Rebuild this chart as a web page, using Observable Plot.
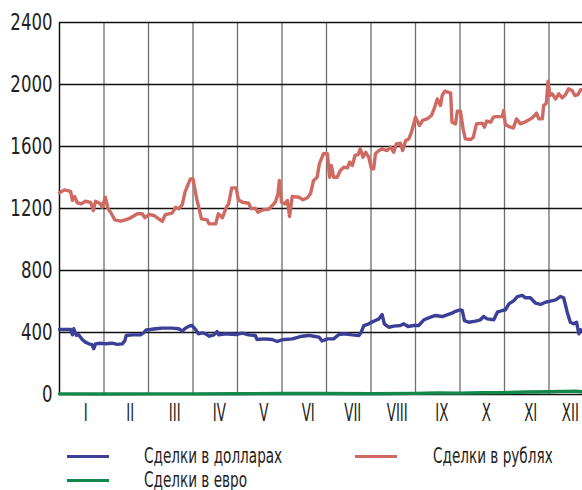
<!DOCTYPE html>
<html>
<head>
<meta charset="utf-8">
<script src="https://cdn.jsdelivr.net/npm/d3@7"></script>
<script src="https://cdn.jsdelivr.net/npm/@observablehq/plot@0.6"></script>
<style>
  html, body { margin: 0; padding: 0; background: #fff; }
  body { width: 582px; height: 490px; overflow: hidden; font-family: "Liberation Sans Narrow", "DejaVu Sans Condensed", sans-serif; }
  #legend { position: relative; width: 582px; height: 50px; color: #222; font-size: 21px; }
  .sw { position: absolute; height: 3px; width: 42px; }
  .lt { position: absolute; line-height: 21px; white-space: nowrap; transform: scaleX(0.72); transform-origin: 0 50%; }
</style>
</head>
<body>
<div id="chart"></div>
<div id="legend"></div>
<script>
// Month positions (fraction of the year in months, 0 = 1 January)
const rubT = [0,0.11,0.25,0.29,0.34,0.40,0.49,0.58,0.70,0.76,0.81,0.92,0.96,1.03,1.09,1.15,1.24,1.37,1.48,1.60,1.75,1.86,1.92,2.01,2.12,2.23,2.31,2.38,2.53,2.61,2.68,2.76,2.82,2.94,3.00,3.09,3.13,3.19,3.32,3.36,3.51,3.57,3.66,3.75,3.80,3.87,3.97,4.02,4.11,4.25,4.31,4.40,4.46,4.56,4.70,4.78,4.85,4.91,4.94,4.99,5.06,5.12,5.17,5.23,5.38,5.47,5.57,5.64,5.71,5.79,5.84,5.93,6.02,6.07,6.11,6.16,6.24,6.31,6.39,6.47,6.52,6.58,6.64,6.71,6.76,6.82,6.88,6.95,7.01,7.06,7.10,7.16,7.25,7.36,7.44,7.51,7.57,7.66,7.71,7.78,7.85,7.91,8.00,8.09,8.16,8.26,8.36,8.43,8.49,8.56,8.60,8.66,8.79,8.82,8.90,8.94,9.01,9.07,9.12,9.24,9.30,9.37,9.50,9.55,9.60,9.69,9.75,9.82,9.95,9.98,10.02,10.10,10.20,10.27,10.36,10.45,10.55,10.64,10.72,10.77,10.85,10.88,10.94,10.98,11.02,11.07,11.15,11.22,11.30,11.37,11.44,11.52,11.58,11.65,11.71,11.75];
const rubV = [1301,1320,1311,1252,1277,1237,1230,1247,1240,1187,1247,1230,1208,1273,1198,1176,1127,1118,1127,1140,1166,1166,1140,1161,1155,1133,1118,1161,1170,1208,1198,1226,1305,1391,1391,1252,1208,1133,1127,1101,1101,1166,1140,1208,1230,1333,1333,1256,1240,1234,1198,1202,1176,1191,1195,1219,1240,1295,1381,1240,1230,1252,1148,1277,1273,1256,1269,1295,1381,1402,1488,1553,1553,1402,1477,1402,1402,1445,1466,1462,1499,1477,1542,1548,1585,1531,1563,1531,1456,1456,1553,1570,1585,1574,1596,1563,1617,1621,1574,1639,1649,1692,1789,1735,1768,1778,1800,1853,1907,1864,1929,1957,1944,1757,1746,1828,1828,1714,1649,1645,1660,1746,1751,1725,1764,1757,1789,1793,1793,1832,1742,1729,1720,1778,1746,1757,1772,1789,1815,1778,1778,1864,1879,2021,1929,1940,1907,1940,1914,1935,1972,1961,1929,1935,1966,1966];

const usdT = [0,0.25,0.29,0.32,0.38,0.43,0.51,0.58,0.66,0.73,0.77,0.81,0.92,1.03,1.18,1.30,1.41,1.47,1.50,1.63,1.82,1.89,1.95,2.04,2.16,2.31,2.53,2.68,2.76,2.83,2.91,2.98,3.06,3.12,3.21,3.28,3.37,3.47,3.54,3.58,3.73,3.96,4.11,4.25,4.40,4.44,4.59,4.78,4.89,5.00,5.23,5.45,5.60,5.71,5.83,5.90,6.02,6.16,6.28,6.39,6.58,6.73,6.78,6.84,6.95,7.06,7.18,7.25,7.30,7.40,7.51,7.66,7.74,7.83,7.96,8.07,8.19,8.34,8.45,8.60,8.71,8.82,8.90,9.00,9.05,9.10,9.20,9.35,9.46,9.53,9.61,9.76,9.84,9.95,10.02,10.10,10.21,10.29,10.40,10.47,10.58,10.70,10.81,10.92,11.03,11.15,11.26,11.33,11.41,11.48,11.56,11.62,11.67,11.71,11.75];
const usdV = [419,419,385,424,381,385,355,338,327,321,295,327,331,327,331,323,327,348,381,385,385,398,417,419,424,428,428,424,409,428,441,445,419,392,398,392,376,385,406,385,392,387,396,385,381,355,359,355,342,353,359,376,381,376,370,345,359,359,387,392,385,381,402,445,456,473,488,516,456,434,441,445,456,439,445,445,482,499,510,503,514,525,537,546,542,477,466,473,482,503,488,482,531,542,546,585,606,632,639,624,624,589,581,595,602,611,632,624,531,466,456,466,392,417,413];

const eurT = [0,1,2,3,4,5,6,7,8,8.5,9,9.5,10,10.5,11,11.3,11.6,11.75];
const eurV = [4,3,4,4,5,6,6,5,7,10,9,11,12,16,18,20,22,18];

const yTicks = [0,400,800,1200,1600,2000,2400];
const monthLabels = ["I","II","III","IV","V","VI","VII","VIII","IX","X","XI","XII"];
const monthBounds = [1,2,3,4,5,6,7,8,9,10,11];

const seriesNames = ["Сделки в долларах", "Сделки в евро", "Сделки в рублях"];
const colors = {usd: "#3b3f98", eur: "#12884a", rub: "#cf6a62"};

const rub = rubT.map((t,i) => ({t, v: rubV[i]}));
const usd = usdT.map((t,i) => ({t, v: usdV[i]}));
const eur = eurT.map((t,i) => ({t, v: eurV[i]}));

const fontFam = '"Liberation Sans Narrow", "DejaVu Sans Condensed", sans-serif';

const chart = Plot.plot({
  width: 582,
  height: 440,
  marginLeft: 59,
  marginRight: 0,
  marginTop: 22,
  marginBottom: 46,
  x: {domain: [0, 11.753], axis: null},
  y: {domain: [0, 2400], axis: null},
  style: {fontFamily: fontFam, fontSize: "22px", color: "#222", background: "#fff"},
  marks: [
    Plot.ruleX(monthBounds, {stroke: "#6e6e6e", strokeWidth: 1.3}),
    Plot.ruleY(yTicks, {stroke: "#111", strokeWidth: 1.3}),
    Plot.ruleX([0], {stroke: "#111", strokeWidth: 1.5}),
    Plot.axisY(yTicks, {tickSize: 0, tickPadding: 7, tickFormat: d => String(d), fontSize: 23, label: null}),
    Plot.line(rub, {x: "t", y: "v", stroke: colors.rub, strokeWidth: 3.4, strokeLinejoin: "round"}),
    Plot.line(usd, {x: "t", y: "v", stroke: colors.usd, strokeWidth: 3.4, strokeLinejoin: "round"}),
    Plot.line(eur, {x: "t", y: "v", stroke: colors.eur, strokeWidth: 3.4, strokeLinejoin: "round"}),
    Plot.text(monthLabels, {x: (d, i) => Math.min(i + 0.59, 11.48), y: 0, text: d => d, dy: 19, fontSize: 24, fill: "#222"})
  ]
});
document.getElementById("chart").appendChild(chart);

// Narrow the glyphs horizontally (condensed face of the original) without moving anchors
function squeeze(el, k) {
  const w = el.getComputedTextLength();
  if (w > 0) {
    el.setAttribute("textLength", (w * k).toFixed(2));
    el.setAttribute("lengthAdjust", "spacingAndGlyphs");
  }
}
const svg = chart.tagName.toLowerCase() === "svg" ? chart : chart.querySelector("svg");
svg.querySelectorAll("text").forEach(el => {
  const s = el.textContent;
  if (monthLabels.includes(s)) squeeze(el, 0.62);
  else squeeze(el, 0.8);
});

// Legend below the chart
const legend = document.getElementById("legend");
const items = [
  {name: seriesNames[0], color: colors.usd, sx: 67, tx: 144, top: 0},
  {name: seriesNames[1], color: colors.eur, sx: 67, tx: 144, top: 24},
  {name: seriesNames[2], color: colors.rub, sx: 355, tx: 433, top: 0}
];
items.forEach(it => {
  const sw = document.createElement("div");
  sw.className = "sw";
  sw.style.left = it.sx + "px";
  sw.style.top = (it.top + 15) + "px";
  sw.style.background = it.color;
  legend.appendChild(sw);
  const t = document.createElement("div");
  t.className = "lt";
  t.style.left = it.tx + "px";
  t.style.top = (it.top + 6) + "px";
  t.textContent = it.name;
  legend.appendChild(t);
});
</script>
</body>
</html>
